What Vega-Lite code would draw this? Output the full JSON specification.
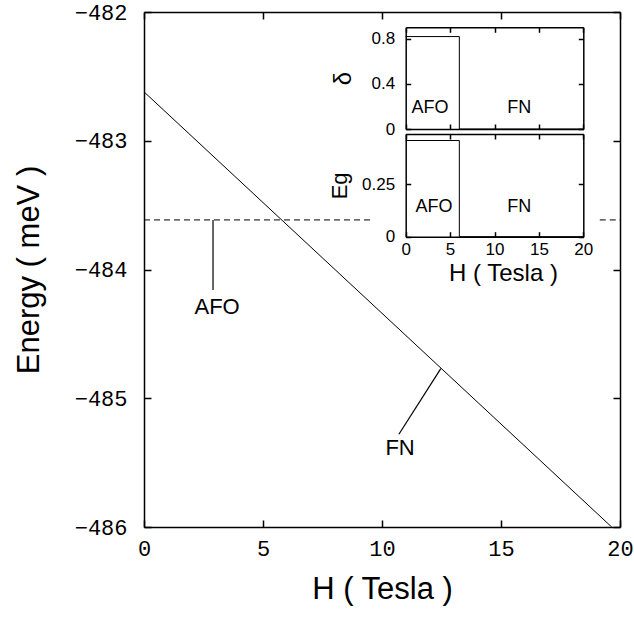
{
  "$schema": "https://vega.github.io/schema/vega-lite/v6.json",
  "width": 476,
  "height": 515,
  "autosize": {"type": "none"},
  "padding": {"left": 144, "top": 12, "right": 14, "bottom": 95},
  "background": "white",
  "config": {
    "view": {"stroke": null},
    "axis": {
      "grid": false,
      "domainColor": "black",
      "tickColor": "black",
      "labelColor": "black",
      "titleColor": "black",
      "domainWidth": 1.5,
      "tickWidth": 1.5,
      "labelFlush": false,
      "titleFontWeight": "normal",
      "titleFont": "Liberation Sans",
      "labelFont": "Liberation Sans"
    }
  },
  "datasets": {
    "fn": [{"H": 0, "E": -482.62}, {"H": 19.65, "E": -486.0}],
    "afo": [
      {"H": 0, "E": -483.615, "seg": "a"},
      {"H": 9.65, "E": -483.615, "seg": "a"},
      {"H": 19.15, "E": -483.615, "seg": "b"},
      {"H": 20, "E": -483.615, "seg": "b"}
    ],
    "pointers": [
      {"H": 2.9, "E": -483.615, "H2": 2.9, "E2": -484.16},
      {"H": 12.47, "E": -484.77, "H2": 10.71, "E2": -485.28}
    ],
    "labels": [
      {"H": 3.07, "E": -484.29, "t": "AFO"},
      {"H": 10.76, "E": -485.39, "t": "FN"}
    ],
    "delta": [
      {"H": 0, "v": 0.818},
      {"H": 6.04, "v": 0.818},
      {"H": 6.04, "v": 0},
      {"H": 20, "v": 0}
    ],
    "gap": [
      {"H": 0, "v": 0.459},
      {"H": 6.04, "v": 0.459},
      {"H": 6.04, "v": 0},
      {"H": 20, "v": 0}
    ],
    "deltaLabels": [
      {"H": 2.74, "v": 0.185, "t": "AFO"},
      {"H": 12.8, "v": 0.185, "t": "FN"}
    ],
    "gapLabels": [
      {"H": 3.19, "v": 0.142, "t": "AFO"},
      {"H": 12.8, "v": 0.142, "t": "FN"}
    ]
  },
  "layer": [
    {
      "layer": [
        {
          "data": {"name": "fn"},
          "mark": {"type": "line", "color": "black", "strokeWidth": 1},
          "encoding": {
            "x": {
              "field": "H", "type": "quantitative",
              "scale": {"domain": [0, 20], "nice": false, "zero": false},
              "axis": {
                "orient": "bottom", "values": [0, 5, 10, 15, 20], "tickSize": -7,
                "labelPadding": 18, "labelFont": "Liberation Mono", "labelFontSize": 22,
                "title": "H ( Tesla )", "titleFontSize": 31, "titlePadding": 15
              }
            },
            "y": {
              "field": "E", "type": "quantitative",
              "scale": {"domain": [-486, -482], "nice": false, "zero": false},
              "axis": {
                "orient": "left", "values": [-486, -485, -484, -483, -482], "tickSize": -7,
                "labelPadding": 24, "labelFont": "Liberation Mono", "labelFontSize": 22,
                "format": "d",
                "title": "Energy ( meV )", "titleFontSize": 31, "titlePadding": 29
              }
            }
          }
        },
        {
          "data": {"name": "afo"},
          "mark": {"type": "line", "color": "black", "strokeWidth": 1, "strokeDash": [6, 4]},
          "encoding": {
            "x": {
              "field": "H", "type": "quantitative",
              "scale": {"domain": [0, 20], "nice": false, "zero": false},
              "axis": {"orient": "top", "values": [0, 5, 10, 15, 20], "tickSize": -7, "labels": false, "title": null}
            },
            "y": {
              "field": "E", "type": "quantitative",
              "scale": {"domain": [-486, -482], "nice": false, "zero": false},
              "axis": {"orient": "right", "values": [-486, -485, -484, -483, -482], "tickSize": -7, "labels": false, "title": null}
            },
            "detail": {"field": "seg"}
          }
        },
        {
          "data": {"name": "pointers"},
          "mark": {"type": "rule", "color": "black", "strokeWidth": 1.2},
          "encoding": {
            "x": {"field": "H", "type": "quantitative", "axis": null, "scale": {"domain": [0, 20], "nice": false, "zero": false}},
            "y": {"field": "E", "type": "quantitative", "axis": null, "scale": {"domain": [-486, -482], "nice": false, "zero": false}},
            "x2": {"field": "H2"},
            "y2": {"field": "E2"}
          }
        },
        {
          "data": {"name": "labels"},
          "mark": {"type": "text", "font": "Liberation Sans", "fontSize": 22, "color": "black", "align": "center", "baseline": "middle"},
          "encoding": {
            "x": {"field": "H", "type": "quantitative", "axis": null, "scale": {"domain": [0, 20], "nice": false, "zero": false}},
            "y": {"field": "E", "type": "quantitative", "axis": null, "scale": {"domain": [-486, -482], "nice": false, "zero": false}},
            "text": {"field": "t"}
          }
        }
      ],
      "resolve": {"axis": {"x": "independent", "y": "independent"}}
    },
    {
      "layer": [
        {
          "data": {"name": "delta"},
          "mark": {"type": "line", "color": "black", "strokeWidth": 1, "interpolate": "linear"},
          "encoding": {
            "x": {
              "field": "H", "type": "quantitative",
              "scale": {"domain": [0, 20], "nice": false, "zero": false, "range": [261.7, 439.3]},
              "axis": {"orient": "bottom", "offset": -398, "values": [0, 5, 10, 15, 20], "tickSize": -5, "labels": false, "title": null}
            },
            "y": {
              "field": "v", "type": "quantitative",
              "scale": {"domain": [0, 0.9], "nice": false, "zero": false, "range": [117, 15.3]},
              "axis": {
                "orient": "left", "offset": -261.7, "values": [0, 0.4, 0.8], "format": ".2~f", "tickSize": -5,
                "labelPadding": 16, "labelFontSize": 17,
                "title": "δ", "titleFontSize": 24, "titlePadding": 16
              }
            }
          }
        },
        {
          "data": {"name": "deltaLabels"},
          "mark": {"type": "text", "font": "Liberation Sans", "fontSize": 18, "color": "black", "align": "center", "baseline": "middle"},
          "encoding": {
            "x": {
              "field": "H", "type": "quantitative",
              "scale": {"domain": [0, 20], "nice": false, "zero": false, "range": [261.7, 439.3]},
              "axis": {"orient": "top", "offset": -15.3, "values": [0, 5, 10, 15, 20], "tickSize": -5, "labels": false, "title": null}
            },
            "y": {
              "field": "v", "type": "quantitative",
              "scale": {"domain": [0, 0.9], "nice": false, "zero": false, "range": [117, 15.3]},
              "axis": {"orient": "right", "offset": -36.7, "values": [0, 0.4, 0.8], "tickSize": -5, "labels": false, "title": null}
            },
            "text": {"field": "t"}
          }
        }
      ],
      "resolve": {"axis": {"x": "independent", "y": "independent"}}
    },
    {
      "layer": [
        {
          "data": {"name": "gap"},
          "mark": {"type": "line", "color": "black", "strokeWidth": 1},
          "encoding": {
            "x": {
              "field": "H", "type": "quantitative",
              "scale": {"domain": [0, 20], "nice": false, "zero": false, "range": [261.7, 439.3]},
              "axis": {
                "orient": "bottom", "offset": -290.3, "values": [0, 5, 10, 15, 20], "tickSize": -5,
                "labelPadding": 10, "labelFontSize": 17,
                "title": "H ( Tesla )", "titleFontSize": 24, "titlePadding": 4, "titleX": 359
              }
            },
            "y": {
              "field": "v", "type": "quantitative",
              "scale": {"domain": [0, 0.49], "nice": false, "zero": false, "range": [224.7, 122]},
              "axis": {
                "orient": "left", "offset": -261.7, "values": [0, 0.25], "format": ".2~f", "tickSize": -5,
                "labelPadding": 16, "labelFontSize": 17,
                "title": "Eg", "titleFontSize": 22, "titlePadding": 10
              }
            }
          }
        },
        {
          "data": {"name": "gapLabels"},
          "mark": {"type": "text", "font": "Liberation Sans", "fontSize": 18, "color": "black", "align": "center", "baseline": "middle"},
          "encoding": {
            "x": {
              "field": "H", "type": "quantitative",
              "scale": {"domain": [0, 20], "nice": false, "zero": false, "range": [261.7, 439.3]},
              "axis": {"orient": "top", "offset": -122, "values": [0, 5, 10, 15, 20], "tickSize": -5, "labels": false, "title": null}
            },
            "y": {
              "field": "v", "type": "quantitative",
              "scale": {"domain": [0, 0.49], "nice": false, "zero": false, "range": [224.7, 122]},
              "axis": {"orient": "right", "offset": -36.7, "values": [0, 0.25], "tickSize": -5, "labels": false, "title": null}
            },
            "text": {"field": "t"}
          }
        }
      ],
      "resolve": {"axis": {"x": "independent", "y": "independent"}}
    }
  ],
  "resolve": {"scale": {"x": "independent", "y": "independent"}}
}
